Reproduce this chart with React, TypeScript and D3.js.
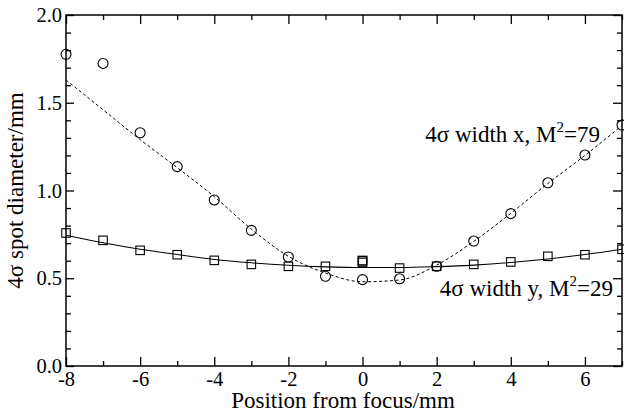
import React, {useRef, useEffect} from 'react';
import * as d3 from 'd3';

// positions along the beam (mm from focus)
const positions = [-8, -7, -6, -5, -4, -3, -2, -1, 0, 1, 2, 3, 4, 5, 6, 7];
// measured 4-sigma widths (mm)
const widthX = [1.776, 1.724, 1.329, 1.136, 0.946, 0.773, 0.621, 0.511, 0.492, 0.497, 0.568, 0.712, 0.868, 1.044, 1.202, 1.373];
const widthY = [0.758, 0.716, 0.659, 0.634, 0.602, 0.579, 0.568, 0.568, 0.59, 0.558, 0.568, 0.579, 0.593, 0.625, 0.634, 0.665];
// repeated measurement that overlaps at the focus
const extraYPos = [0];
const extraYVal = [0.6];
const fitX = [1.63, 1.46, 1.29, 1.13, 0.965, 0.78, 0.625, 0.53, 0.48, 0.49, 0.575, 0.71, 0.87, 1.04, 1.2, 1.37];
const fitY = [0.745, 0.702, 0.665, 0.635, 0.607, 0.588, 0.574, 0.565, 0.561, 0.561, 0.566, 0.575, 0.59, 0.61, 0.635, 0.665];

const xMajor = [-8, -6, -4, -2, 0, 2, 4, 6];
const xMinor = [-7, -5, -3, -1, 1, 3, 5, 7];
const yMajor = [0, 0.5, 1.0, 1.5, 2.0];
const yMinor = [0.1, 0.2, 0.3, 0.4, 0.6, 0.7, 0.8, 0.9, 1.1, 1.2, 1.3, 1.4, 1.6, 1.7, 1.8, 1.9];

const W = 624, H = 414;
const margin = {left: 66, right: 2, top: 15, bottom: 48};
const font = 'Liberation Serif, DejaVu Serif, serif';

const App = () => {
  const svgRef = useRef<SVGSVGElement>(null);

  const x = d3.scaleLinear().domain([-8, 7]).range([margin.left, W - margin.right]);
  const y = d3.scaleLinear().domain([0, 2]).range([H - margin.bottom, margin.top]);

  useEffect(() => {
    const svg = d3.select(svgRef.current);
    const fmtX = (d: any) => String(d).replace('\u2212', '-');
    const fmtY = d3.format('.1f');

    const setup = (g: any) => {
      g.attr('font-family', null).attr('font-size', null);
      g.select('.domain').remove();
      g.selectAll('line').attr('stroke', '#000').attr('stroke-width', 1.3);
      g.selectAll('text').attr('fill', '#000');
    };

    svg.select('.x-axis')
      .attr('transform', `translate(0,${y(0)})`)
      .call(d3.axisBottom(x).tickValues(xMajor).tickSize(-9).tickPadding(5).tickFormat(fmtX) as any)
      .call(setup);
    svg.select('.x-minor')
      .attr('transform', `translate(0,${y(0)})`)
      .call(d3.axisBottom(x).tickValues(xMinor).tickSize(-5).tickFormat(() => '') as any)
      .call(setup);
    svg.select('.x-top')
      .attr('transform', `translate(0,${y(2)})`)
      .call(d3.axisTop(x).tickValues(xMajor).tickSize(-9).tickFormat(() => '') as any)
      .call(setup);
    svg.select('.x-top-minor')
      .attr('transform', `translate(0,${y(2)})`)
      .call(d3.axisTop(x).tickValues(xMinor).tickSize(-5).tickFormat(() => '') as any)
      .call(setup);

    svg.select('.y-axis')
      .attr('transform', `translate(${x(-8)},0)`)
      .call(d3.axisLeft(y).tickValues(yMajor).tickSize(-8).tickPadding(4).tickFormat(fmtY as any) as any)
      .call(setup);
    svg.select('.y-minor')
      .attr('transform', `translate(${x(-8)},0)`)
      .call(d3.axisLeft(y).tickValues(yMinor).tickSize(-5).tickFormat(() => '') as any)
      .call(setup);
    svg.select('.y-right')
      .attr('transform', `translate(${x(7)},0)`)
      .call(d3.axisRight(y).tickValues(yMajor).tickSize(-9).tickFormat(() => '') as any)
      .call(setup);
    svg.select('.y-right-minor')
      .attr('transform', `translate(${x(7)},0)`)
      .call(d3.axisRight(y).tickValues(yMinor).tickSize(-5).tickFormat(() => '') as any)
      .call(setup);
  }, []);

  const fitLine = d3.line<number>()
    .x((_, i) => x(positions[i]))
    .y(d => y(d))
    .curve(d3.curveMonotoneX);

  const sq = 8.5;

  return (
    <svg ref={svgRef} width={W} height={H}
      style={{position: 'absolute', left: 0, top: 0, background: '#fff', fontFamily: font, fontSize: 20.5}}>
      <rect x={0} y={0} width={W} height={H} fill='#fff'/>
      <path d={fitLine(fitX) || ''} fill='none' stroke='#000' strokeWidth={1} strokeDasharray='3,2.5'/>
      <path d={fitLine(fitY) || ''} fill='none' stroke='#000' strokeWidth={1.1}/>
      {positions.map((p, i) => (
        <circle key={'c' + i} cx={x(p)} cy={y(widthX[i])} r={5} fill='none' stroke='#000' strokeWidth={1.1}/>
      ))}
      {positions.map((p, i) => (
        <rect key={'s' + i} x={x(p) - sq / 2} y={y(widthY[i]) - sq / 2} width={sq} height={sq}
          fill='none' stroke='#000' strokeWidth={1.1}/>
      ))}
      {extraYPos.map((p, i) => (
        <rect key={'e' + i} x={x(p) - sq / 2} y={y(extraYVal[i]) - sq / 2} width={sq} height={sq}
          fill='none' stroke='#000' strokeWidth={1.6}/>
      ))}
      <rect x={x(-8)} y={y(2)} width={x(7) - x(-8)} height={y(0) - y(2)} fill='none' stroke='#000' strokeWidth={1.5}/>
      <g className='x-axis'/>
      <g className='x-minor'/>
      <g className='x-top'/>
      <g className='x-top-minor'/>
      <g className='y-axis'/>
      <g className='y-minor'/>
      <g className='y-right'/>
      <g className='y-right-minor'/>
      <g fill='#000'>
        <text x={343} y={408} fontSize={23} textAnchor='middle'>Position from focus/mm</text>
        <text transform={`translate(23,${(y(0) + y(2)) / 2}) rotate(-90)`} fontSize={23} textAnchor='middle'>4σ spot diameter/mm</text>
        <text x={600} y={142} fontSize={23} textAnchor='end'>
          4σ width x, M<tspan dy={-10} fontSize={15}>2</tspan><tspan dy={10}>=79</tspan>
        </text>
        <text x={613} y={296} fontSize={23} textAnchor='end'>
          4σ width y, M<tspan dy={-10} fontSize={15}>2</tspan><tspan dy={10}>=29</tspan>
        </text>
      </g>
    </svg>
  );
};

export default App;
